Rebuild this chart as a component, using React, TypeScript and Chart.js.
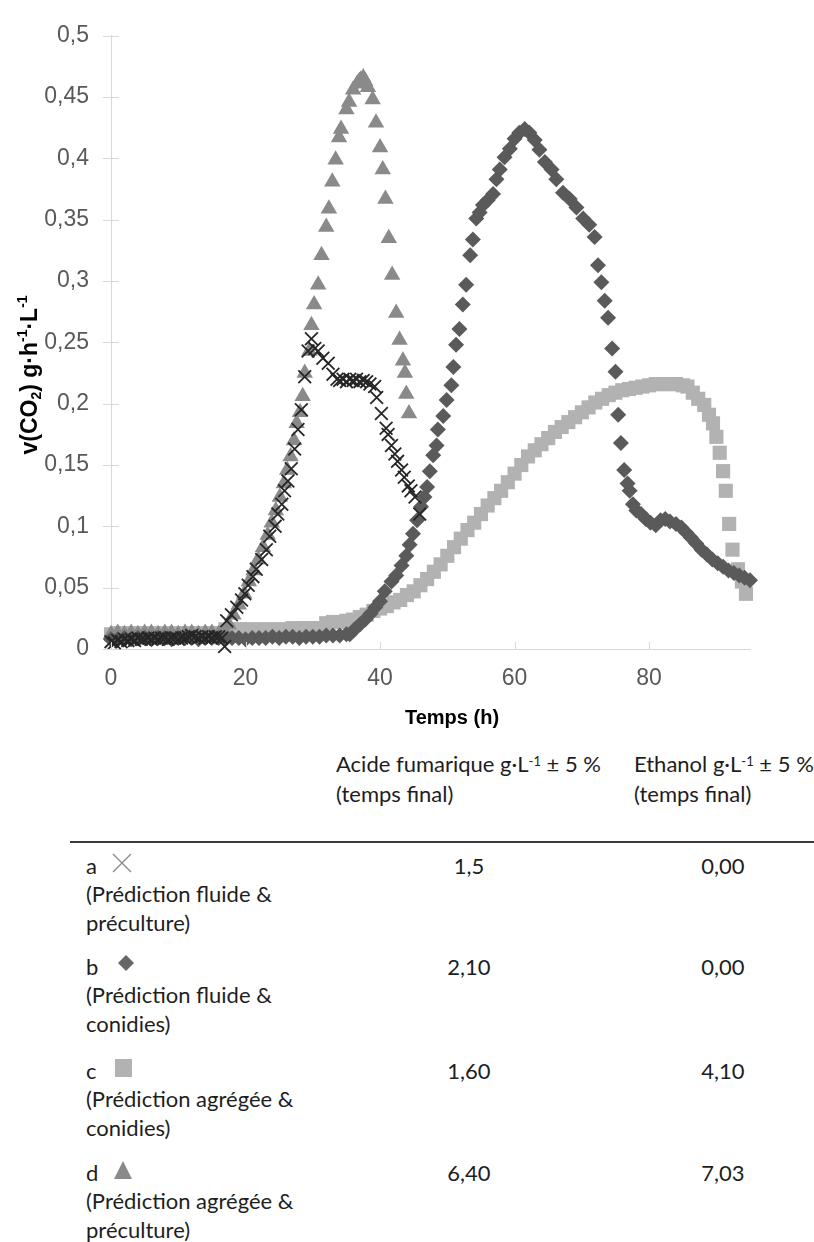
import React, { useEffect, useRef } from "react";
import { Chart, registerables } from "chart.js";

Chart.register(...registerables);

// ---------- data ----------
const xTickValues = [0, 20, 40, 60, 80];
const xTickLabels = ["0", "20", "40", "60", "80"];
const yTickValues = [0, 0.05, 0.1, 0.15, 0.2, 0.25, 0.3, 0.35, 0.4, 0.45, 0.5];
const yTickLabels = ["0", "0,05", "0,1", "0,15", "0,2", "0,25", "0,3", "0,35", "0,4", "0,45", "0,5"];

// a : Prédiction fluide & préculture (×)
const seriesA: [number, number][] = [
  [0, 0.006], [0.5, 0.005], [1, 0.007], [1.5, 0.006], [2, 0.008], [2.5, 0.007], [3, 0.008], [3.5, 0.007],
  [4, 0.009], [4.5, 0.008], [5, 0.008], [5.5, 0.009], [6, 0.008], [6.5, 0.009], [7, 0.008], [7.5, 0.009],
  [8, 0.009], [8.5, 0.008], [9, 0.009], [9.5, 0.009], [10, 0.008], [10.5, 0.009], [11, 0.009], [11.5, 0.01],
  [12, 0.011], [12.5, 0.01], [13, 0.009], [13.5, 0.01], [14, 0.009], [14.5, 0.01], [15, 0.009], [15.5, 0.01],
  [16, 0.01], [16.5, 0.009], [16.9, 0.002], [17.2, 0.023], [17.9, 0.028], [18.7, 0.034], [19.4, 0.04],
  [19.9, 0.045], [20.4, 0.052], [21.1, 0.059], [21.6, 0.065], [22.4, 0.073], [23.1, 0.081], [23.6, 0.092],
  [24.4, 0.1], [24.8, 0.11], [25.4, 0.118], [25.8, 0.129], [26.3, 0.137], [26.8, 0.147], [27.3, 0.163],
  [27.8, 0.179], [28.3, 0.195], [28.8, 0.222], [29.3, 0.243], [29.8, 0.253], [30.3, 0.245], [30.8, 0.243],
  [31.5, 0.237], [32.3, 0.233], [33.0, 0.224], [33.6, 0.22], [34.0, 0.219], [34.5, 0.22], [35.0, 0.218],
  [35.5, 0.22], [36.0, 0.219], [36.5, 0.22], [37.0, 0.218], [37.5, 0.219], [38.0, 0.218], [38.5, 0.216],
  [39.2, 0.214], [39.5, 0.205], [40.2, 0.192], [40.9, 0.18], [41.2, 0.175], [41.7, 0.166], [42.2, 0.159],
  [42.6, 0.153], [43.2, 0.146], [43.6, 0.14], [44.2, 0.133], [44.6, 0.129], [45.2, 0.124], [45.9, 0.11],
];

// b : Prédiction fluide & conidies (◆)
const seriesB: [number, number][] = [
  [0, 0.008], [1, 0.008], [2, 0.009], [3, 0.008], [4, 0.009], [5, 0.009], [6, 0.008], [7, 0.009], [8, 0.009],
  [9, 0.008], [10, 0.009], [11, 0.009], [12, 0.009], [13, 0.008], [14, 0.009], [15, 0.009], [16, 0.009],
  [17, 0.008], [18, 0.009], [19, 0.009], [20, 0.008], [21, 0.009], [22, 0.009], [23, 0.009], [24, 0.01],
  [25, 0.009], [26, 0.01], [27, 0.01], [28, 0.009], [29, 0.01], [30, 0.01], [31, 0.01], [32, 0.011],
  [33, 0.011], [34, 0.011], [35, 0.012], [35.5, 0.012], [36.2, 0.016], [37.0, 0.02], [37.8, 0.024],
  [38.6, 0.029], [39.3, 0.034], [40.0, 0.039], [40.7, 0.047], [41.7, 0.055], [42.4, 0.06], [43.2, 0.068],
  [43.9, 0.076], [44.4, 0.085], [44.9, 0.094], [45.5, 0.105], [46.1, 0.116], [46.6, 0.124], [47.0, 0.132],
  [47.4, 0.145], [47.9, 0.158], [48.4, 0.166], [48.6, 0.179], [49.4, 0.19], [49.9, 0.203], [50.6, 0.215],
  [50.9, 0.23], [51.3, 0.248], [51.8, 0.261], [52.3, 0.281], [52.8, 0.297], [53.4, 0.321], [53.8, 0.334],
  [54.3, 0.351], [54.8, 0.356], [55.3, 0.362], [56.0, 0.366], [56.8, 0.371], [57.3, 0.383], [57.8, 0.391],
  [58.5, 0.401], [59.3, 0.408], [60.0, 0.416], [60.7, 0.421], [61.5, 0.424], [62.2, 0.421], [63.0, 0.415],
  [63.7, 0.407], [64.5, 0.397], [65.5, 0.391], [66.2, 0.383], [67.2, 0.372], [68.2, 0.367], [69.2, 0.36],
  [70.2, 0.351], [71.1, 0.346], [71.9, 0.336], [72.4, 0.313], [72.9, 0.299], [73.4, 0.284], [73.9, 0.27],
  [74.5, 0.245], [75.0, 0.226], [75.4, 0.191], [75.8, 0.168], [76.3, 0.146], [76.8, 0.135], [77.1, 0.129],
  [77.6, 0.118], [78.1, 0.113], [78.8, 0.11], [79.5, 0.106], [80.2, 0.103], [81.0, 0.101], [81.7, 0.105],
  [82.4, 0.106], [83.1, 0.104], [84.0, 0.102], [84.8, 0.099], [85.5, 0.095], [86.2, 0.091], [87.0, 0.086],
  [87.8, 0.081], [88.6, 0.077], [89.4, 0.073], [90.2, 0.07], [91.0, 0.067], [91.8, 0.064], [92.6, 0.062],
  [93.4, 0.06], [94.2, 0.058], [95.0, 0.056],
];

// c : Prédiction agrégée & conidies (■)
const seriesC: [number, number][] = [
  [0, 0.012], [1, 0.013], [2, 0.013], [3, 0.013], [4, 0.013], [5, 0.013], [6, 0.013], [7, 0.013], [8, 0.013],
  [9, 0.013], [10, 0.013], [11, 0.013], [12, 0.013], [13, 0.013], [14, 0.013], [15, 0.013], [16, 0.013],
  [17, 0.016], [18, 0.016], [19, 0.016], [20, 0.016], [21, 0.016], [22, 0.016], [23, 0.016], [24, 0.016],
  [25, 0.016], [26, 0.016], [27, 0.017], [28, 0.017], [29, 0.017], [30, 0.017], [31, 0.017], [32, 0.021],
  [33, 0.022], [34, 0.022], [35, 0.023], [36, 0.024], [37, 0.026], [38, 0.028], [39, 0.031], [40, 0.033],
  [41, 0.035], [42, 0.038], [43, 0.04], [44, 0.044], [45, 0.047], [46, 0.052], [47, 0.057], [48, 0.063],
  [49, 0.069], [50, 0.076], [51, 0.083], [52, 0.09], [53, 0.097], [54, 0.103], [55, 0.11], [56, 0.117],
  [57, 0.123], [58, 0.129], [59, 0.136], [60, 0.143], [61, 0.15], [62, 0.157], [63, 0.162], [64, 0.167],
  [65, 0.172], [66, 0.177], [67, 0.181], [68, 0.185], [69, 0.189], [70, 0.193], [71, 0.197], [72, 0.201],
  [73, 0.204], [74, 0.207], [75, 0.209], [76, 0.211], [77, 0.212], [78, 0.213], [79, 0.214], [80, 0.215],
  [81, 0.216], [82, 0.216], [83, 0.216], [84, 0.216], [85, 0.215], [85.7, 0.214], [86.5, 0.209],
  [87.3, 0.204], [88.2, 0.199], [88.9, 0.191], [89.5, 0.184], [90.0, 0.173], [90.5, 0.16], [91.0, 0.145],
  [91.4, 0.129], [91.9, 0.102], [92.4, 0.081], [93.2, 0.065], [93.8, 0.055], [94.4, 0.045],
];

// d : Prédiction agrégée & préculture (▲)
const seriesD: [number, number][] = [
  [0, 0.012], [1, 0.013], [2, 0.012], [3, 0.013], [4, 0.012], [5, 0.013], [6, 0.013], [7, 0.012], [8, 0.013],
  [9, 0.013], [10, 0.012], [11, 0.013], [12, 0.013], [13, 0.012], [14, 0.013], [15, 0.013], [16, 0.012],
  [17, 0.014], [17.5, 0.02], [18.2, 0.028], [19.0, 0.036], [19.8, 0.045], [20.5, 0.055], [21.2, 0.064],
  [21.9, 0.073], [22.6, 0.083], [23.3, 0.093], [23.9, 0.103], [24.5, 0.113], [25.1, 0.124], [25.7, 0.135],
  [26.2, 0.146], [26.7, 0.157], [27.2, 0.17], [27.6, 0.184], [28.1, 0.193], [28.5, 0.206], [28.8, 0.225],
  [29.5, 0.243], [29.8, 0.264], [30.2, 0.281], [30.8, 0.297], [31.3, 0.321], [32.0, 0.344], [32.4, 0.359],
  [32.9, 0.381], [33.4, 0.399], [33.9, 0.417], [34.2, 0.424], [35.0, 0.44], [35.4, 0.446], [36.0, 0.456],
  [36.6, 0.461], [36.9, 0.463], [37.1, 0.464], [37.5, 0.466], [37.8, 0.463], [38.2, 0.458], [38.9, 0.448],
  [39.4, 0.429], [40.0, 0.409], [40.4, 0.391], [40.8, 0.367], [41.3, 0.335], [41.8, 0.305], [42.4, 0.274],
  [42.9, 0.252], [43.4, 0.235], [43.7, 0.225], [43.9, 0.208], [44.3, 0.192],
];

// table
const colHeaders = [
  ["Acide fumarique g·L", "-1", " ± 5 %", "(temps final)"],
  ["Ethanol g·L", "-1", " ± 5 %", "(temps final)"],
];
const rowLetters = ["a", "b", "c", "d"];
const rowDescriptions = [
  ["(Prédiction fluide &", "préculture)"],
  ["(Prédiction fluide &", "conidies)"],
  ["(Prédiction agrégée &", "conidies)"],
  ["(Prédiction agrégée &", "préculture)"],
];
const acidValues = ["1,5", "2,10", "1,60", "6,40"];
const ethanolValues = ["0,00", "0,00", "4,10", "7,03"];

// ---------- styles ----------
const COL_A = "#262626";
const COL_B = "#5a5a5a";
const COL_C = "#b2b2b2";
const COL_D = "#8a8a8a";
const AXIS = "#d9d9d9";
const TICK_FONT = '"Liberation Sans", Arial, sans-serif';
const TABLE_FONT = 'Lato, "Liberation Sans", sans-serif';

const toPts = (s: [number, number][]) => s.map(([x, y]) => ({ x, y }));

const decorPlugin = {
  id: "decor",
  afterDraw(chart: any) {
    const ctx = chart.ctx;
    const { left, bottom } = chart.chartArea;
    const xs = chart.scales.x;
    const ys = chart.scales.y;
    ctx.save();
    ctx.strokeStyle = AXIS;
    ctx.lineWidth = 1;
    yTickValues.forEach((v) => {
      const py = Math.round(ys.getPixelForValue(v)) + 0.5;
      ctx.beginPath();
      ctx.moveTo(left - 8, py);
      ctx.lineTo(left + 8, py);
      ctx.stroke();
    });
    xTickValues.forEach((v) => {
      const px = Math.round(xs.getPixelForValue(v)) + 0.5;
      ctx.beginPath();
      ctx.moveTo(px, bottom - 7);
      ctx.lineTo(px, bottom);
      ctx.stroke();
    });

    // x title
    ctx.fillStyle = "#000";
    ctx.font = `bold 20px ${TICK_FONT}`;
    ctx.textAlign = "center";
    ctx.textBaseline = "middle";
    ctx.fillText("Temps (h)", 452, 718);

    // y title with sub/superscripts
    const parts: [string, string][] = [
      ["v(CO", "n"], ["2", "sub"], [") g·h", "n"], ["-1", "sup"], ["·L", "n"], ["-1", "sup"],
    ];
    const mainF = `bold 23px ${TICK_FONT}`;
    const smallF = `bold 14px ${TICK_FONT}`;
    let total = 0;
    parts.forEach(([t, k]) => {
      ctx.font = k === "n" ? mainF : smallF;
      total += ctx.measureText(t).width;
    });
    ctx.translate(29, 375);
    ctx.rotate(-Math.PI / 2);
    ctx.textAlign = "left";
    ctx.textBaseline = "alphabetic";
    let cx = -total / 2;
    parts.forEach(([t, k]) => {
      ctx.font = k === "n" ? mainF : smallF;
      const dy = k === "sub" ? 12 : k === "sup" ? -2 : 8;
      ctx.fillText(t, cx, dy);
      cx += ctx.measureText(t).width;
    });
    ctx.restore();
  },
};

function ChartCanvas() {
  const ref = useRef<HTMLCanvasElement | null>(null);
  useEffect(() => {
    if (!ref.current) return;
    const chart = new Chart(ref.current, {
      type: "scatter",
      data: {
        datasets: [
          {
            label: "a",
            data: toPts(seriesA),
            pointStyle: "crossRot",
            pointRadius: 9,
            borderColor: COL_A,
            backgroundColor: COL_A,
            pointBorderWidth: 1.8,
            clip: false,
          } as any,
          {
            label: "b",
            data: toPts(seriesB),
            pointStyle: "rectRot",
            pointRadius: 8,
            borderColor: COL_B,
            backgroundColor: COL_B,
            pointBorderWidth: 0,
            clip: false,
          },
          {
            label: "d",
            data: toPts(seriesD),
            pointStyle: "triangle",
            pointRadius: 9.5,
            borderColor: COL_D,
            backgroundColor: COL_D,
            pointBorderWidth: 0,
            clip: false,
          },
          {
            label: "c",
            data: toPts(seriesC),
            pointStyle: "rect",
            pointRadius: 10,
            borderColor: COL_C,
            backgroundColor: COL_C,
            pointBorderWidth: 0,
            clip: false,
          },
        ],
      },
      options: {
        responsive: false,
        animation: false,
        events: [],
        devicePixelRatio: 1,
        layout: { padding: { left: 0, right: 64, top: 19, bottom: 0 } },
        plugins: { legend: { display: false }, tooltip: { enabled: false }, title: { display: false } },
        scales: {
          x: {
            type: "linear",
            min: 0,
            max: 95,
            grid: { display: false, drawTicks: false },
            border: { display: true, color: AXIS, width: 1 },
            afterBuildTicks: (s: any) => {
              s.ticks = xTickValues.map((v) => ({ value: v }));
            },
            afterFit: (s: any) => {
              s.height = 91;
            },
            ticks: {
              padding: 16,
              color: "#595959",
              font: { family: TICK_FONT, size: 23 },
              callback: (_v: any, i: number) => xTickLabels[i],
              maxRotation: 0,
            },
          },
          y: {
            type: "linear",
            min: 0,
            max: 0.5,
            grid: { display: false, drawTicks: false },
            border: { display: true, color: AXIS, width: 1 },
            afterBuildTicks: (s: any) => {
              s.ticks = yTickValues.map((v) => ({ value: v }));
            },
            afterFit: (s: any) => {
              s.width = 111;
            },
            ticks: {
              padding: 22,
              color: "#595959",
              font: { family: TICK_FONT, size: 23 },
              callback: (_v: any, i: number) => yTickLabels[i],
            },
          },
        },
      },
      plugins: [decorPlugin],
    } as any);
    return () => chart.destroy();
  }, []);
  return (
    <canvas
      ref={ref}
      width={814}
      height={740}
      style={{ position: "absolute", left: 0, top: 0, width: 814, height: 740 }}
    />
  );
}

function RowSymbol({ kind, top }: { kind: number; top: number }) {
  const style: React.CSSProperties = { position: "absolute", left: 110, top, width: 24, height: 24 };
  if (kind === 0)
    return (
      <svg style={style} viewBox="0 0 24 24">
        <line x1="3" y1="3" x2="21" y2="21" stroke="#8a8a8a" strokeWidth="1.3" />
        <line x1="21" y1="3" x2="3" y2="21" stroke="#8a8a8a" strokeWidth="1.3" />
      </svg>
    );
  if (kind === 1)
    return (
      <svg style={style} viewBox="0 0 24 24">
        <polygon points="16,3 24,11 16,19 8,11" fill="#666" />
      </svg>
    );
  if (kind === 2)
    return (
      <svg style={style} viewBox="0 0 24 24">
        <rect x="5" y="3" width="17" height="18" fill="#b2b2b2" />
      </svg>
    );
  return (
    <svg style={style} viewBox="0 0 24 24">
      <polygon points="13,3 22,21 4,21" fill="#8a8a8a" />
    </svg>
  );
}

export default function App() {
  const fs = 22;
  const lh = 29;
  const rowFirst = [865, 966, 1070, 1172];
  const text = (t: React.ReactNode, left: number, cy: number, extra: React.CSSProperties = {}, key?: any) => (
    <div
      key={key}
      style={{
        position: "absolute",
        left,
        top: cy - lh / 2,
        height: lh,
        lineHeight: `${lh}px`,
        fontSize: fs,
        fontFamily: TABLE_FONT,
        color: "#1e1e1e",
        whiteSpace: "nowrap",
        ...extra,
      }}
    >
      {t}
    </div>
  );
  const headerLefts = [336, 634];
  return (
    <div style={{ position: "absolute", left: 0, top: 0, width: 814, height: 1242, background: "#fff", overflow: "hidden" }}>
      <ChartCanvas />
      {colHeaders.map((h, i) => (
        <React.Fragment key={"h" + i}>
          {text(
            <>
              {h[0]}
              <sup style={{ fontSize: 13, verticalAlign: "6px", lineHeight: 0 }}>{h[1]}</sup>
              {h[2]}
            </>,
            headerLefts[i],
            763
          )}
          {text(h[3], headerLefts[i], 793)}
        </React.Fragment>
      ))}
      <div style={{ position: "absolute", left: 70, top: 841, width: 744, height: 2, background: "#3a3a3a" }} />
      {rowLetters.map((l, i) => (
        <React.Fragment key={"r" + i}>
          {text(l, 86, rowFirst[i])}
          <RowSymbol kind={i} top={rowFirst[i] - 14} />
          {text(rowDescriptions[i][0], 86, rowFirst[i] + 28.7)}
          {text(rowDescriptions[i][1], 86, rowFirst[i] + 57.4)}
          {text(acidValues[i], 419, rowFirst[i], { width: 100, textAlign: "center" })}
          {text(ethanolValues[i], 673, rowFirst[i], { width: 100, textAlign: "center" })}
        </React.Fragment>
      ))}
    </div>
  );
}
